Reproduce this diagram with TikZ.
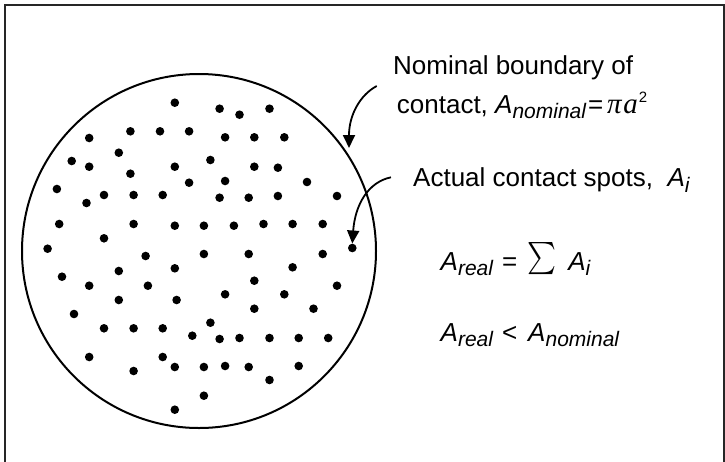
\documentclass[tikz,border=0pt]{standalone}
\usepackage{fontspec}
\setmainfont{Liberation Sans}
\newfontfamily\serifit[ItalicFont=* Italic]{Liberation Serif}
\usepackage{graphicx}
\usetikzlibrary{arrows.meta}

\newcommand{\subtxt}[1]{\raisebox{-5.5pt}{\fontsize{21}{21}\selectfont\itshape #1}}
\newcommand{\bigsum}{\raisebox{-8.3pt}{\resizebox{29pt}{36pt}{\raisebox{\depth}{$\sum$}}}}

\begin{document}
\begin{tikzpicture}[
  x=1pt, y=-1pt,
  >={Triangle[length=13pt,width=12pt]},
  every node/.style={font=\fontsize{26}{30}\selectfont},
  frame/.style={draw=black!85, line width=2pt},
  spot/.style={circle, fill=black, inner sep=0pt, minimum size=8.6pt},
  lbl/.style={anchor=base west, inner sep=0pt},
  pointer/.style={->, line width=1.8pt}
]
\useasboundingbox (0,0) rectangle (725,461);
\draw[frame] (5,470) -- (5,5) -- (724,5) -- (724,470);
\node[draw, line width=2pt, circle, minimum size=354pt, inner sep=0pt] (contact) at (199,251) {};
\foreach \x/\y [count=\k] in {174.8/102.7, 219.6/108.7, 239.5/114.7, 269.5/108.7,
  89.2/138, 130.4/131.3, 160.0/131.3, 189.1/131.3, 225.1/137.3, 254.3/137.3, 284.3/137.3,
  118.8/152.7, 71.7/161, 89.2/166.7, 174.8/166.7, 210.4/160, 254.3/166.7, 277.9/167.7,
  130.4/173.7, 189.1/182.7, 225.1/181, 307.0/182, 56.9/189,
  104.0/195, 133.6/195, 162.7/195, 219.6/197.7, 248.7/197.7, 277.9/196, 337.0/196, 86.5/203,
  59.2/224, 133.6/224, 174.8/225.7, 203.9/225.7, 233.9/225.7, 263.5/224, 292.6/224, 322.7/224,
  104.0/238.3, 47.6/248.7, 145.6/256, 203.9/254, 248.7/254, 322.7/254, 352.3/248,
  62.0/276.7, 118.8/271, 174.8/268.3, 292.6/267.3, 89.2/285.7, 147.9/285.7, 254.3/280.7, 337.0/285.7,
  118.8/300, 176.6/300, 225.1/294.3, 284.3/294.3, 74.0/314, 254.3/308.7, 313.5/308.7,
  104.0/328.3, 133.6/328.3, 162.7/328.3, 210.4/322.7, 192.3/335.7, 219.6/339, 239.5/338, 269.5/338, 298.7/338, 328.2/338,
  89.2/357, 162.7/357, 174.8/367, 203.9/367, 225.1/366, 248.7/367, 298.7/366,
  133.6/371, 269.5/380, 203.9/395.7, 174.8/409.7}
  {\node[spot] (s\k) at (\x,\y) {};}
\node[lbl] (nom1) at (393,74.3) {Nominal boundary of};
\node[lbl] (nom2) at (396.7,113.3) {contact, \textit{A}\subtxt{nominal}\hspace{2pt}=\hspace{4pt}{\fontsize{29}{30}\selectfont\serifit\itshape π\hspace{1.5pt}a}\hspace{1pt}\raisebox{11pt}{\fontsize{15}{15}\selectfont 2}};
\node[lbl] (spots) at (413,186.7) {Actual contact spots,\ \ \textit{A}\subtxt{i}};
\node[lbl] (sumeq) at (440.5,270) {\textit{A}\subtxt{real}\hspace{9pt}=\hspace{10pt}\bigsum\hspace{12pt}\textit{A}\subtxt{i}};
\node[lbl] (ineq) at (440.5,341) {\textit{A}\subtxt{real}\hspace{9pt}<\hspace{11pt}\textit{A}\subtxt{nominal}};
\coordinate (nomtail) at (376.7,86);
\coordinate (nomtip) at (349,148);
\coordinate (spottail) at (391,177.3);
\draw[pointer] (nomtail) .. controls (360,95) and (349,115) .. (nomtip);
\draw[pointer] (spottail) .. controls (368,182) and (355,205) .. (s46.north);
\end{tikzpicture}
\end{document}
